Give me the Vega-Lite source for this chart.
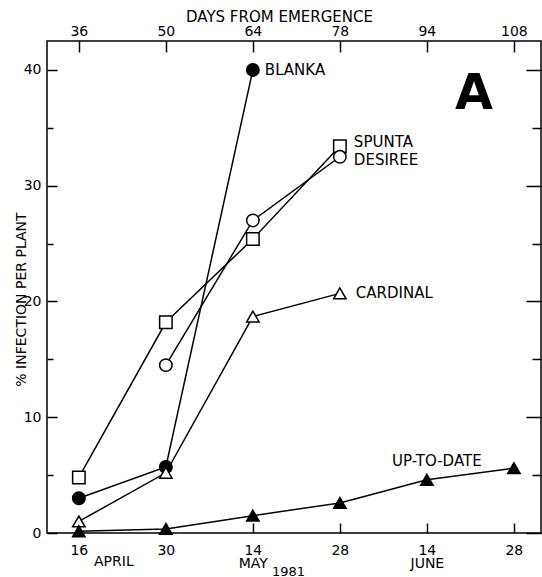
{
  "$schema": "https://vega.github.io/schema/vega-lite/v6.json",
  "width": 494,
  "height": 492,
  "autosize": {"type": "none"},
  "padding": {"left": 47, "top": 41, "right": 1, "bottom": 44},
  "background": "white",
  "config": {
    "view": {"stroke": "black", "strokeWidth": 1.5},
    "font": "DejaVu Sans",
    "axis": {
      "domain": false,
      "grid": false,
      "tickColor": "black",
      "tickWidth": 1.5,
      "labelColor": "black",
      "titleColor": "black",
      "labelFont": "DejaVu Sans",
      "titleFont": "DejaVu Sans",
      "titleFontWeight": "normal",
      "labelFontSize": 14,
      "titleFontSize": 14
    }
  },
  "title": {
    "text": "A",
    "font": "DejaVu Sans",
    "fontSize": 49,
    "fontWeight": "bold",
    "color": "black",
    "anchor": "end",
    "frame": "group",
    "orient": "top",
    "baseline": "alphabetic",
    "offset": -149,
    "dx": -48
  },
  "datasets": {
    "obs": [
      {"variety": "BLANKA", "days": 36, "infection": 3.0},
      {"variety": "BLANKA", "days": 50, "infection": 5.7},
      {"variety": "BLANKA", "days": 64, "infection": 40.0},
      {"variety": "SPUNTA", "days": 36, "infection": 4.8},
      {"variety": "SPUNTA", "days": 50, "infection": 18.2},
      {"variety": "SPUNTA", "days": 64, "infection": 25.4},
      {"variety": "SPUNTA", "days": 78, "infection": 33.4},
      {"variety": "DESIREE", "days": 50, "infection": 14.5},
      {"variety": "DESIREE", "days": 64, "infection": 27.0},
      {"variety": "DESIREE", "days": 78, "infection": 32.5},
      {"variety": "CARDINAL", "days": 36, "infection": 1.0},
      {"variety": "CARDINAL", "days": 50, "infection": 5.2},
      {"variety": "CARDINAL", "days": 64, "infection": 18.7},
      {"variety": "CARDINAL", "days": 78, "infection": 20.7},
      {"variety": "UP-TO-DATE", "days": 36, "infection": 0.15},
      {"variety": "UP-TO-DATE", "days": 50, "infection": 0.35},
      {"variety": "UP-TO-DATE", "days": 64, "infection": 1.5},
      {"variety": "UP-TO-DATE", "days": 78, "infection": 2.6},
      {"variety": "UP-TO-DATE", "days": 94, "infection": 4.6},
      {"variety": "UP-TO-DATE", "days": 108, "infection": 5.6}
    ],
    "labels": [
      {"variety": "BLANKA", "days": 64, "infection": 40.0},
      {"variety": "SPUNTA", "days": 78, "infection": 33.4},
      {"variety": "DESIREE", "days": 78, "infection": 32.5},
      {"variety": "CARDINAL", "days": 78, "infection": 20.7},
      {"variety": "UP-TO-DATE", "days": 94, "infection": 4.6}
    ],
    "months": [
      {"month": "APRIL", "days": 36, "infection": 0}
    ]
  },
  "layer": [
    {
      "data": {"name": "obs"},
      "mark": {"type": "line", "color": "black", "strokeWidth": 1.5},
      "encoding": {
        "x": {
          "field": "days",
          "type": "ordinal",
          "scale": {"type": "point", "padding": 0.339, "align": 0.54},
          "axis": {
            "orient": "bottom",
            "labelAngle": 0,
            "tickSize": -10,
            "labelPadding": 20,
            "labelBaseline": "top",
            "labelLineHeight": 13,
            "labelOverlap": false,
            "labelFlush": false,
            "labelExpr": "datum.value == 36 ? '16' : datum.value == 50 ? '30' : datum.value == 64 ? ['14', 'MAY'] : datum.value == 78 ? '28' : datum.value == 94 ? ['14', 'JUNE'] : '28'",
            "title": "1981",
            "titleX": 241,
            "titleY": 38,
            "titleAlign": "center",
            "titleBaseline": "middle",
            "titleFontSize": 13
          }
        },
        "y": {
          "field": "infection",
          "type": "quantitative",
          "scale": {"domain": [0, 42.5], "nice": false},
          "axis": {
            "orient": "left",
            "values": [0, 5, 10, 15, 20, 25, 30, 35, 40],
            "tickSize": {"condition": {"test": "datum.value % 10 === 0", "value": -10}, "value": -6},
            "labelPadding": 16,
            "labelExpr": "datum.value % 10 === 0 ? datum.label : ''",
            "title": "% INFECTION PER PLANT",
            "titleX": -26,
            "titleY": 258,
            "titleAlign": "center",
            "titleBaseline": "middle",
            "titleAngle": -90
          }
        },
        "detail": {"field": "variety"}
      }
    },
    {
      "data": {"name": "obs"},
      "mark": {"type": "point", "filled": true, "stroke": "black", "strokeWidth": 1.5, "size": 155, "opacity": 1},
      "encoding": {
        "x": {
          "field": "days",
          "type": "ordinal",
          "axis": {
            "orient": "top",
            "labelAngle": 0,
            "tickSize": -11,
            "labelPadding": 14,
            "labelOverlap": false,
            "labelFlush": false,
            "title": "DAYS FROM EMERGENCE",
            "titleFontSize": 15,
            "titleX": 232,
            "titleY": -25,
            "titleAlign": "center",
            "titleBaseline": "middle"
          }
        },
        "y": {
          "field": "infection",
          "type": "quantitative",
          "axis": {
            "orient": "right",
            "values": [0, 5, 10, 15, 20, 25, 30, 35, 40],
            "tickSize": {"condition": {"test": "datum.value % 10 === 0", "value": -15}, "value": -9},
            "labels": false,
            "title": null
          }
        },
        "shape": {
          "field": "variety",
          "type": "nominal",
          "scale": {"domain": ["BLANKA", "SPUNTA", "DESIREE", "CARDINAL", "UP-TO-DATE"], "range": ["circle", "square", "circle", "triangle-up", "triangle-up"]},
          "legend": null
        },
        "fill": {
          "field": "variety",
          "type": "nominal",
          "scale": {"domain": ["BLANKA", "SPUNTA", "DESIREE", "CARDINAL", "UP-TO-DATE"], "range": ["black", "white", "white", "white", "black"]},
          "legend": null
        }
      }
    },
    {
      "data": {"name": "labels"},
      "transform": [{"filter": "datum.variety == 'BLANKA'"}],
      "mark": {"type": "text", "align": "left", "baseline": "middle", "dx": 12, "fontSize": 15, "font": "DejaVu Sans", "color": "black"},
      "encoding": {
        "x": {"field": "days", "type": "ordinal", "axis": null},
        "y": {"field": "infection", "type": "quantitative", "axis": null},
        "text": {"field": "variety"}
      }
    },
    {
      "data": {"name": "labels"},
      "transform": [{"filter": "datum.variety == 'CARDINAL'"}],
      "mark": {"type": "text", "align": "left", "baseline": "middle", "dx": 16, "fontSize": 15, "font": "DejaVu Sans", "color": "black"},
      "encoding": {
        "x": {"field": "days", "type": "ordinal", "axis": null},
        "y": {"field": "infection", "type": "quantitative", "axis": null},
        "text": {"field": "variety"}
      }
    },
    {
      "data": {"name": "labels"},
      "transform": [{"filter": "datum.variety == 'SPUNTA'"}],
      "mark": {"type": "text", "align": "left", "baseline": "middle", "dx": 14, "dy": -4, "fontSize": 15, "font": "DejaVu Sans", "color": "black"},
      "encoding": {
        "x": {"field": "days", "type": "ordinal", "axis": null},
        "y": {"field": "infection", "type": "quantitative", "axis": null},
        "text": {"field": "variety"}
      }
    },
    {
      "data": {"name": "labels"},
      "transform": [{"filter": "datum.variety == 'DESIREE'"}],
      "mark": {"type": "text", "align": "left", "baseline": "middle", "dx": 14, "dy": 3, "fontSize": 15, "font": "DejaVu Sans", "color": "black"},
      "encoding": {
        "x": {"field": "days", "type": "ordinal", "axis": null},
        "y": {"field": "infection", "type": "quantitative", "axis": null},
        "text": {"field": "variety"}
      }
    },
    {
      "data": {"name": "labels"},
      "transform": [{"filter": "datum.variety == 'UP-TO-DATE'"}],
      "mark": {"type": "text", "align": "center", "baseline": "middle", "dx": 10, "dy": -19, "fontSize": 15, "font": "DejaVu Sans", "color": "black"},
      "encoding": {
        "x": {"field": "days", "type": "ordinal", "axis": null},
        "y": {"field": "infection", "type": "quantitative", "axis": null},
        "text": {"field": "variety"}
      }
    },
    {
      "data": {"name": "months"},
      "mark": {"type": "text", "align": "center", "baseline": "middle", "dx": 35, "dy": 29, "fontSize": 14, "font": "DejaVu Sans", "color": "black", "clip": false},
      "encoding": {
        "x": {"field": "days", "type": "ordinal", "axis": null},
        "y": {"field": "infection", "type": "quantitative", "axis": null},
        "text": {"field": "month"}
      }
    }
  ],
  "resolve": {"axis": {"x": "independent", "y": "independent"}}
}
